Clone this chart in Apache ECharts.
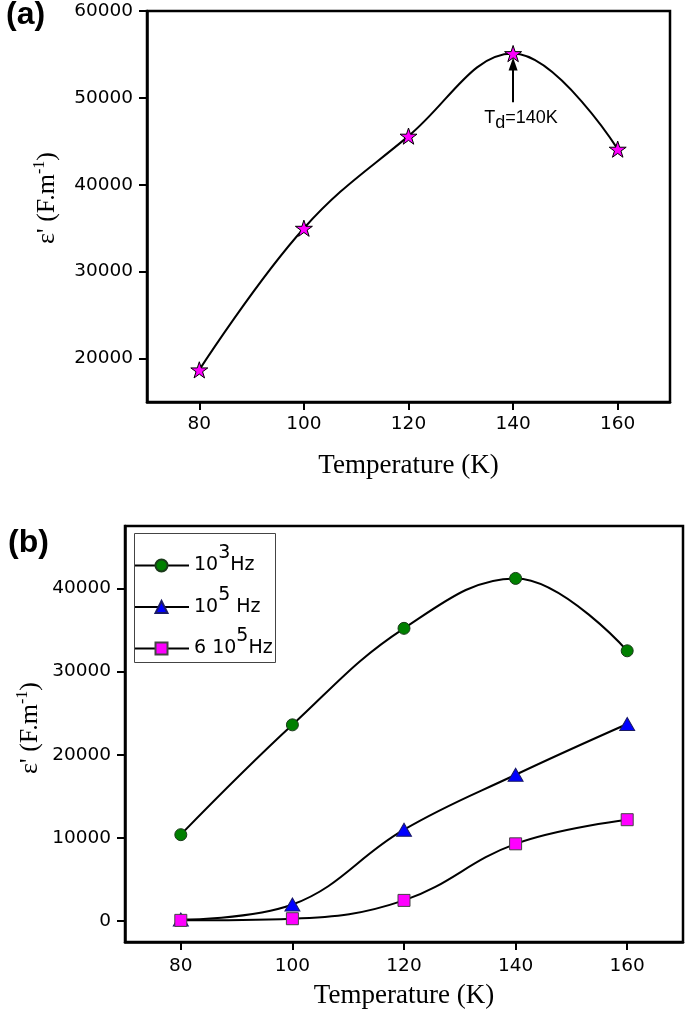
<!DOCTYPE html>
<html><head><meta charset="utf-8">
<script src="https://cdn.jsdelivr.net/npm/echarts@6/dist/echarts.min.js"></script>
<style>html,body{margin:0;padding:0;background:#fff}#c{width:685px;height:1020px}</style>
</head><body><div id="c"></div>
<script>
// ---- data ----
const temps = [80, 100, 120, 140, 160];
const epsA = [18700, 35000, 45600, 55100, 44100];
const eps1e3 = [10400, 23600, 35200, 41200, 32500];
const eps1e5 = [200, 2000, 11000, 17600, 23700];
const eps6e5 = [100, 300, 2500, 9300, 12200];
const xTicks = [80, 100, 120, 140, 160];
const yTicksA = [20000, 30000, 40000, 50000, 60000];
const yTicksB = [0, 10000, 20000, 30000, 40000];
const seriesNamesB = ['10^3 Hz', '10^5 Hz', '6 10^5 Hz'];
const legendRich = {
  '10^3 Hz': '{n|10}{s|3}{n|Hz}',
  '10^5 Hz': '{n|10}{s|5}{n| Hz}',
  '6 10^5 Hz': '{n|6 10}{s|5}{n|Hz}'
};
const peakT = 140;
const arrowFrom = 49500, arrowTo = 53900, labelAt = 47700;

const pair = arr => temps.map((t, i) => [t, arr[i]]);
const STAR = 'path://M50,2 L61.2,36.5 L97.5,36.5 L68.2,57.9 L79.4,92.5 L50,71.1 L20.6,92.5 L31.8,57.9 L2.5,36.5 L38.8,36.5 Z';
const tickFont = {fontFamily: 'DejaVu Sans', fontSize: 18.5, color: '#000', formatter: v => String(v)};
const nameFont = {fontFamily: 'Liberation Serif', fontSize: 27, color: '#000'};
const SMOOTH = 0.4;

function xAxisCfg(gridIndex, gap, margin) {
  return {
    type: 'value', gridIndex, min: 70, max: 170,
    axisLine: {show: true, onZero: false, lineStyle: {color: '#000', width: 2.5}},
    axisTick: {show: true, inside: false, length: 8, lineStyle: {color: '#000', width: 2}, customValues: xTicks},
    axisLabel: Object.assign({margin, customValues: xTicks}, tickFont),
    splitLine: {show: false},
    name: 'Temperature (K)', nameLocation: 'middle', nameGap: gap, nameTextStyle: nameFont
  };
}
function yAxisCfg(gridIndex, min, max, ticks) {
  return {
    type: 'value', gridIndex, min, max,
    axisLine: {show: true, onZero: false, lineStyle: {color: '#000', width: 2.5}},
    axisTick: {show: true, inside: false, length: 8, lineStyle: {color: '#000', width: 2}, customValues: ticks},
    axisLabel: Object.assign({margin: 14, customValues: ticks}, tickFont),
    splitLine: {show: false}
  };
}

const chart = echarts.init(document.getElementById('c'), null, {renderer: 'canvas'});
chart.setOption({
  animation: false,
  backgroundColor: '#fff',
  grid: [
    {left: 147, right: 15, top: 11, bottom: 618, show: true, borderColor: '#000', borderWidth: 2.5, backgroundColor: 'transparent'},
    {left: 125, right: 2, top: 526, bottom: 78, show: true, borderColor: '#000', borderWidth: 2.5, backgroundColor: 'transparent'}
  ],
  xAxis: [xAxisCfg(0, 50, 13), xAxisCfg(1, 40, 15)],
  yAxis: [yAxisCfg(0, 15000, 60000, yTicksA), yAxisCfg(1, -2500, 47500, yTicksB)],
  legend: {
    data: seriesNamesB, orient: 'vertical', left: 133, top: 544, padding: 0,
    itemWidth: 55, itemHeight: 15, itemGap: -1.5,
    formatter: name => legendRich[name],
    textStyle: {
      fontFamily: 'DejaVu Sans', fontSize: 19, color: '#000',
      rich: {
        n: {fontFamily: 'DejaVu Sans', fontSize: 19, lineHeight: 16, color: '#000'},
        s: {fontFamily: 'DejaVu Sans', fontSize: 19, lineHeight: 16, color: '#000', padding: [0, 0, 24, 0]}
      }
    }
  },
  graphic: [
    {type: 'rect', left: 132, top: 531, shape: {width: 141, height: 129}, style: {fill: 'none', stroke: '#444', lineWidth: 1}, z: 100},
    {type: 'text', left: 6, top: -1, style: {text: '(a)', fontFamily: 'Liberation Sans', fontWeight: 'bold', fontSize: 32, fill: '#000'}},
    {type: 'text', left: 8, top: 527, style: {text: '(b)', fontFamily: 'Liberation Sans', fontWeight: 'bold', fontSize: 32, fill: '#000'}},
    {type: 'text', x: 47, y: 198, rotation: Math.PI / 2,
      style: {text: "ε' (F.m{s|-1})", fontFamily: 'Liberation Serif', fontSize: 26, fill: '#000', align: 'center', verticalAlign: 'middle',
        rich: {s: {fontFamily: 'Liberation Serif', fontSize: 16, padding: [0, 0, 14, 0], fill: '#000'}}}},
    {type: 'text', x: 30, y: 728, rotation: Math.PI / 2,
      style: {text: "ε' (F.m{s|-1})", fontFamily: 'Liberation Serif', fontSize: 26, fill: '#000', align: 'center', verticalAlign: 'middle',
        rich: {s: {fontFamily: 'Liberation Serif', fontSize: 16, padding: [0, 0, 14, 0], fill: '#000'}}}}
  ],
  series: [
    {
      type: 'line', xAxisIndex: 0, yAxisIndex: 0, data: pair(epsA), smooth: SMOOTH,
      symbol: STAR, symbolSize: 17, symbolKeepAspect: true,
      lineStyle: {color: '#000', width: 2},
      itemStyle: {color: '#FF00FF', borderColor: '#000', borderWidth: 1},
      z: 3,
      markLine: {
        silent: true, symbol: ['none', 'triangle'], symbolSize: [9, 13],
        lineStyle: {color: '#000', width: 2, type: 'solid'}, label: {show: false},
        data: [[{coord: [peakT, arrowFrom]}, {coord: [peakT, arrowTo]}]]
      },
      markPoint: {
        silent: true, symbol: 'circle', symbolSize: 1, itemStyle: {color: 'rgba(0,0,0,0)'},
        label: {show: true, position: 'inside', offset: [8, 0], formatter: 'T{d|d}=' + peakT + 'K',
          fontFamily: 'Liberation Sans', fontSize: 18, color: '#000',
          rich: {d: {fontFamily: 'Liberation Sans', fontSize: 18, color: '#000', padding: [10, 0, 0, 0]}}},
        data: [{coord: [peakT, labelAt]}]
      }
    },
    {
      name: seriesNamesB[0], type: 'line', xAxisIndex: 1, yAxisIndex: 1, data: pair(eps1e3), smooth: SMOOTH,
      symbol: 'circle', symbolSize: 12,
      lineStyle: {color: '#000', width: 2},
      itemStyle: {color: '#008000', borderColor: '#1a3a1a', borderWidth: 1}
    },
    {
      name: seriesNamesB[1], type: 'line', xAxisIndex: 1, yAxisIndex: 1, data: pair(eps1e5), smooth: SMOOTH,
      symbol: 'triangle', symbolSize: [15, 13],
      lineStyle: {color: '#000', width: 2},
      itemStyle: {color: '#0000FF', borderColor: '#1a1a66', borderWidth: 1}
    },
    {
      name: seriesNamesB[2], type: 'line', xAxisIndex: 1, yAxisIndex: 1, data: pair(eps6e5), smooth: SMOOTH,
      symbol: 'rect', symbolSize: 12,
      lineStyle: {color: '#000', width: 2},
      itemStyle: {color: '#FF00FF', borderColor: '#444', borderWidth: 1}
    }
  ]
});
</script></body></html>
